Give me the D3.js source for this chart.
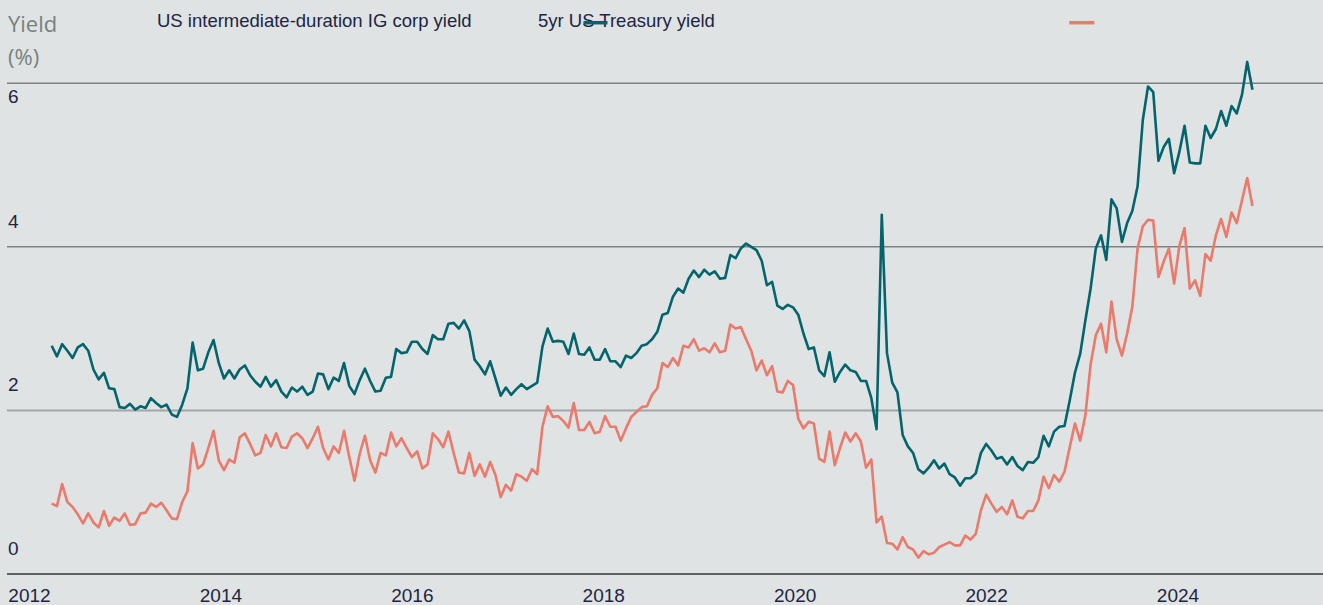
<!DOCTYPE html>
<html><head><meta charset="utf-8">
<script src="https://cdn.jsdelivr.net/npm/d3@7"></script>
<style>html,body{margin:0;padding:0;background:#dfe3e4;overflow:hidden}</style>
</head><body><svg id="c" width="1323" height="605"></svg>
<script>
const seriesNames = ["US intermediate-duration IG corp yield", "5yr US Treasury yield"];
const axisTitle = ["Yield", "(%)"];
// teal series
const corpYield = [
2.79,2.66,2.81,2.73,2.64,2.77,2.81,2.73,2.50,2.38,
2.46,2.27,2.26,2.04,2.03,2.08,2.01,2.05,2.03,2.15,
2.09,2.04,2.07,1.95,1.92,2.07,2.27,2.83,2.49,2.51,
2.71,2.86,2.58,2.39,2.49,2.39,2.50,
2.55,2.43,2.35,2.29,2.41,2.29,2.37,2.23,2.16,2.28,
2.23,2.29,2.19,2.23,2.45,2.44,2.26,2.40,2.36,2.58,
2.30,2.20,2.37,2.51,2.36,2.23,2.24,2.40,2.41,2.75,
2.70,2.71,2.84,2.84,2.75,2.69,2.92,2.87,2.87,3.06,
3.07,3.00,3.10,2.97,2.62,2.54,2.44,2.60,2.39,2.18,
2.28,2.19,2.26,2.32,2.26,2.30,2.34,2.78,3.00,2.84,
2.85,2.84,2.69,2.94,2.69,2.68,2.77,2.62,2.62,2.75,
2.60,2.60,2.53,2.67,2.64,2.70,2.79,2.81,2.87,
2.96,3.17,3.19,3.39,3.49,3.44,3.61,3.71,3.63,3.72,
3.66,3.70,3.61,3.62,3.90,3.86,3.98,4.04,4.00,3.96,
3.83,3.53,3.57,3.28,3.24,3.29,3.26,3.17,2.94,2.75,
2.77,2.49,2.42,2.71,2.35,2.47,2.56,2.49,2.47,
2.36,2.36,2.15,1.77,4.39,2.70,2.34,2.22,1.70,1.56,
1.48,1.28,1.23,1.30,1.39,1.29,1.35,1.22,1.18,1.08,
1.17,1.17,1.23,1.48,1.59,1.51,1.41,1.43,1.34,1.43,
1.32,1.27,1.37,1.36,1.43,1.69,1.56,1.74,1.80,1.81,
2.12,2.46,2.69,3.10,3.49,3.98,4.14,3.84,4.58,4.47,
4.06,4.29,4.44,4.74,5.55,5.96,5.89,5.05,5.22,5.32,
4.90,5.16,5.48,5.03,5.02,5.02,5.48,5.33,5.44,5.66,
5.48,5.72,5.63,5.86,6.26,5.92
];
// orange series
const treasuryYield = [
0.86,0.83,1.10,0.88,0.82,0.73,0.62,0.74,0.63,0.57,
0.77,0.59,0.69,0.65,0.74,0.60,0.61,0.74,0.75,0.86,
0.82,0.87,0.78,0.68,0.67,0.88,1.01,1.60,1.29,1.34,
1.54,1.75,1.39,1.27,1.40,1.36,1.67,
1.72,1.59,1.45,1.48,1.70,1.56,1.72,1.55,1.54,1.68,
1.72,1.66,1.54,1.66,1.80,1.54,1.40,1.56,1.48,1.75,
1.43,1.14,1.47,1.69,1.39,1.24,1.48,1.45,1.73,1.56,
1.66,1.54,1.43,1.50,1.29,1.34,1.72,1.65,1.55,1.74,
1.48,1.24,1.23,1.48,1.20,1.34,1.19,1.37,1.21,0.94,
1.09,1.02,1.22,1.19,1.14,1.28,1.22,1.80,2.05,1.92,
1.93,1.87,1.79,2.09,1.76,1.76,1.86,1.72,1.74,1.93,
1.80,1.80,1.63,1.78,1.92,1.98,2.04,2.05,2.19,
2.27,2.58,2.53,2.64,2.55,2.79,2.77,2.87,2.73,2.76,
2.71,2.82,2.71,2.73,3.05,3.00,3.02,2.87,2.73,2.49,
2.61,2.43,2.54,2.23,2.22,2.36,2.31,1.90,1.78,1.86,
1.84,1.41,1.37,1.74,1.33,1.54,1.73,1.62,1.72,
1.62,1.30,1.40,0.63,0.70,0.38,0.37,0.30,0.45,0.33,
0.30,0.20,0.28,0.24,0.26,0.33,0.36,0.39,0.35,0.35,
0.47,0.42,0.49,0.78,0.97,0.86,0.76,0.82,0.73,0.90,
0.70,0.68,0.77,0.77,0.90,1.19,1.05,1.21,1.13,1.25,
1.55,1.84,1.63,1.94,2.56,2.92,3.06,2.71,3.33,2.87,
2.67,2.94,3.27,3.98,4.25,4.33,4.32,3.63,3.82,3.98,
3.55,4.01,4.23,3.49,3.59,3.40,3.91,3.83,4.14,4.34,
4.12,4.42,4.29,4.57,4.84,4.50
];
const yTicks = [0, 2, 4, 6];
const xTicks = [2012, 2014, 2016, 2018, 2020, 2022, 2024];
const startYear = 2012.237;
const endYear = 2024.783;

const W = 1323, H = 605;
const svg = d3.select("#c");
svg.append("rect").attr("width", W).attr("height", H).attr("fill", "#dfe3e4");

const x = d3.scaleLinear().domain([2012, 2024]).range([29, 1177.5]);
const y = d3.scaleLinear().domain([0, 6]).range([574, 83.2]);
const n = corpYield.length;
const step = (endYear - startYear) / (n - 1);
const tAt = i => startYear + i * step;

const left = 7, right = W;

// gridlines
svg.append("g").selectAll("line").data(yTicks.filter(d => d > 0)).join("line")
  .attr("x1", left).attr("x2", right)
  .attr("y1", d => y(d)).attr("y2", d => y(d))
  .attr("stroke", d => d === 2 ? "#a2a6a6" : "#7c8482")
  .attr("stroke-width", d => d === 2 ? 2 : 1.4);

// y labels
svg.append("g").selectAll("text").data(yTicks).join("text")
  .attr("x", 8)
  .attr("y", d => y(d) + (d === 6 ? 20 : -19))
  .attr("font-family", "Liberation Sans, Arial, sans-serif")
  .attr("font-size", 19)
  .attr("fill", "#1e2541")
  .text(d => d);

// lines
const line = d3.line().x((d, i) => x(tAt(i))).y(d => y(d));
svg.append("path").datum(treasuryYield).attr("d", line)
  .attr("fill", "none").attr("stroke", "#ea7a6b").attr("stroke-width", 2.6)
  .attr("stroke-linejoin", "round");
svg.append("path").datum(corpYield).attr("d", line)
  .attr("fill", "none").attr("stroke", "#04646b").attr("stroke-width", 2.6)
  .attr("stroke-linejoin", "round");

// x axis
const xAxis = d3.axisBottom(x).tickValues(xTicks).tickFormat(d3.format("d")).tickSize(0);
const gx = svg.append("g").attr("transform", `translate(0,${y(0)})`).call(xAxis);
gx.select(".domain").remove();
gx.selectAll("text").attr("y", 27.5).attr("dy", 0)
  .attr("font-family", "Liberation Sans, Arial, sans-serif")
  .attr("font-size", 19).attr("fill", "#1e2541");
svg.append("line").attr("x1", left).attr("x2", right)
  .attr("y1", y(0)).attr("y2", y(0))
  .attr("stroke", "#5f6060").attr("stroke-width", 2);

// axis title
svg.append("g").selectAll("text").data(axisTitle).join("text")
  .attr("x", 8).attr("y", (d, i) => 31.5 + i * 33)
  .attr("font-family", "Open Sans, sans-serif")
  .attr("font-size", 22).attr("fill", "#76817e")
  .text(d => d);

// legend
const lg = svg.append("g");
lg.append("text").attr("x", 157).attr("y", 27)
  .attr("font-family", "Liberation Sans, Arial, sans-serif")
  .attr("font-size", 18.5).attr("fill", "#1e2541").text(seriesNames[0]);
lg.append("text").attr("x", 538).attr("y", 27)
  .attr("font-family", "Liberation Sans, Arial, sans-serif")
  .attr("font-size", 18.5).attr("fill", "#1e2541").text(seriesNames[1]);
lg.append("line").attr("x1", 583.5).attr("x2", 607.5).attr("y1", 22.7).attr("y2", 22.7)
  .attr("stroke", "#04646b").attr("stroke-width", 3.5);
lg.append("line").attr("x1", 1069.3).attr("x2", 1094.3).attr("y1", 22.7).attr("y2", 22.7)
  .attr("stroke", "#ea7a6b").attr("stroke-width", 3.5);
</script>
</body></html>
